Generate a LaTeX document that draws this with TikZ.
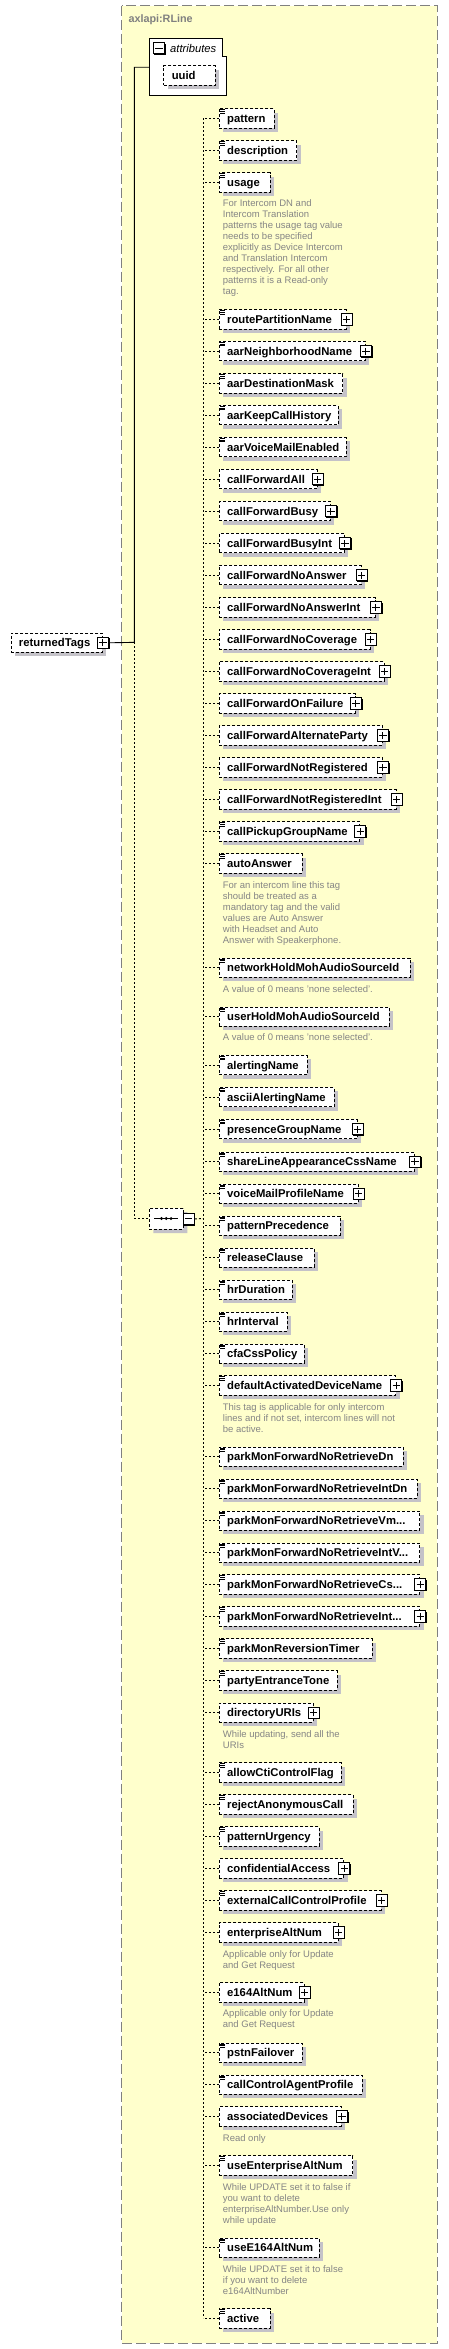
\documentclass[tikz,border=0pt]{standalone}
\usepackage{fontspec}
\setmainfont{Liberation Sans}
\usetikzlibrary{shadows,shapes.misc}
\definecolor{bgyellow}{HTML}{FFFFCC}
\definecolor{bordergray}{HTML}{808080}
\definecolor{shadowgray}{HTML}{C4C2C8}
\definecolor{docgray}{HTML}{858585}
\tikzset{
  elbox/.style={rectangle, draw=black, dash pattern=on 3pt off 2pt, line width=0.9pt, fill=white,
    minimum height=19.3pt, inner xsep=4pt, inner ysep=0pt, text height=8pt, text depth=0pt,
    align=left, font=\fontsize{11.3}{13}\selectfont\bfseries,
    drop shadow={shadow xshift=4pt, shadow yshift=-4pt, fill=shadowgray, opacity=1}},
  conn/.style={draw=black, dash pattern=on 2pt off 2pt, line width=0.9pt},
  solidconn/.style={draw=black, line width=0.9pt},
  pmbox/.style={rectangle, draw=black, solid, line width=0.9pt, fill=white, minimum size=11.3pt, inner sep=0pt,
    drop shadow={shadow xshift=1pt, shadow yshift=-1pt, fill=black, opacity=1}},
  doctext/.style={inner sep=0pt, align=left, text=docgray, font=\fontsize{9.5}{11}\selectfont},
  seqbox/.style={chamfered rectangle, chamfered rectangle xsep=5pt, chamfered rectangle ysep=5pt,
    draw=black, dash pattern=on 3pt off 2pt, line width=0.9pt, fill=white, inner sep=0pt,
    minimum width=34pt, minimum height=21pt,
    drop shadow={shadow xshift=4pt, shadow yshift=-4pt, fill=shadowgray, opacity=1}}
}
\newcommand\xicon[1]{\foreach \dy in {1.2,3,4.8}{\draw[line width=0.7pt] ([xshift=1.5pt,yshift=-\dy pt]#1.north west) -- ++(5,0);}}
\newcommand\xplus[1]{%
  \node[pmbox] (#1-p) at (#1.east) {};
  \draw[line width=0.9pt] ([xshift=-3.6pt]#1-p.center) -- ([xshift=3.6pt]#1-p.center)
    ([yshift=-3.6pt]#1-p.center) -- ([yshift=3.6pt]#1-p.center);}
\newcommand\xelem[6]{%
  \pgfmathsetmacro\xtw{#3-218.7-8}%
  \node[elbox, text width=\xtw pt, anchor=north west] (#1) at (218.7,#2) {\hspace*{4pt}\mbox{#4}};
  \draw[conn] (#1.west) -- (#1.west -| seqjoin);
  \ifnum#5=1 \xicon{#1}\fi
  \ifnum#6=1 \xplus{#1}\fi}
\newcommand\xdoc[3]{\node[doctext, anchor=north west] (#1) at (222.7,#2-4.4) {\strut #3};}
\begin{document}
\begin{tikzpicture}[x=1pt,y=-1pt]
\useasboundingbox (0,0) rectangle (448,2349);
% outer complex type box
\path[fill=bgyellow, draw=bordergray, line width=1pt, dash pattern=on 10pt off 4pt] (121.7,5.7) rectangle (437.3,2343.3);
\node[anchor=base west, inner sep=0pt, font=\fontsize{10.8}{13}\selectfont\bfseries, text=bordergray] (title) at (128.3,22.8) {axlapi:RLine};
% attributes box
\draw[line width=0.9pt, fill=white] (149.3,38.3) -- (222.3,38.3) -- (222.3,56.7) -- (226.7,56.7) -- (226.7,95.7) -- (149.3,95.7) -- cycle;
\coordinate (attr) at (149.3,67.3);
\node[pmbox] (attrm) at (159,48.3) {};
\draw[line width=0.9pt] ([xshift=-3.6pt]attrm.center) -- ([xshift=3.6pt]attrm.center);
\node[anchor=base west, inner sep=0pt, font=\fontsize{11.2}{13}\selectfont\itshape] (attrlabel) at (170,52.3) {attributes};
\pgfmathsetmacro\xtw{215-163.3-8}
\node[elbox, text width=\xtw pt, anchor=north west] (uuid) at (163.3,65.3) {\hspace*{4pt}uuid};
% root element
\pgfmathsetmacro\xtw{102-10.5-8}
\node[elbox, text width=\xtw pt, anchor=north west] (rt) at (10.5,632.7) {\hspace*{4pt}\mbox{returnedTags}};
\xplus{rt}
\coordinate (trunk) at (134.3,642.35);
\coordinate (attrjoin) at (134.3,67.3);
% sequence compositor
\node[seqbox] (seq) at (166.3,1218.5) {};
\draw[line width=0.9pt] ([xshift=-12pt]seq.center) -- ([xshift=12pt]seq.center);
\foreach \dx in {-4.8,0,4.8}{\fill ([xshift=\dx pt]seq.center) circle (1.6pt);}
\node[pmbox] (seqm) at (188.8,1218.9) {};
\draw[line width=0.9pt] ([xshift=-3.6pt]seqm.center) -- ([xshift=3.6pt]seqm.center);
\coordinate (seqjoin) at (203.3,1218.5);
\draw[solidconn] (rt-p.east) -- (trunk) -- (attrjoin) -- (attr);
\draw[conn] (trunk) |- (seq.west);
\draw[conn] (seqm.east) -- (seqjoin);
% children
\xelem{e1}{108.3}{273.7}{pattern}{1}{0}
\xelem{e2}{140.3}{296.3}{description}{1}{0}
\xelem{e3}{172.3}{269.7}{usage}{1}{0}
\xdoc{d3}{203.3}{For Intercom DN and\\Intercom Translation\\patterns the usage tag value\\needs to be specified\\explicitly as Device Intercom\\and Translation Intercom\\respectively. For all other\\patterns it is a Read-only\\tag.}
\xelem{e4}{309.3}{345.7}{routePartitionName}{1}{1}
\xelem{e5}{341}{365}{aarNeighborhoodName}{1}{1}
\xelem{e6}{373.3}{342.3}{aarDestinationMask}{1}{0}
\xelem{e7}{405}{337.7}{aarKeepCallHistory}{1}{0}
\xelem{e8}{437}{345.7}{aarVoiceMailEnabled}{1}{0}
\xelem{e9}{469}{316.7}{callForwardAll}{0}{1}
\xelem{e10}{501}{330}{callForwardBusy}{0}{1}
\xelem{e11}{533}{344}{callForwardBusyInt}{0}{1}
\xelem{e12}{565}{360.7}{callForwardNoAnswer}{0}{1}
\xelem{e13}{597.3}{375}{callForwardNoAnswerInt}{0}{1}
\xelem{e14}{629.3}{369.7}{callForwardNoCoverage}{0}{1}
\xelem{e15}{661.3}{383.7}{callForwardNoCoverageInt}{0}{1}
\xelem{e16}{693.3}{355}{callForwardOnFailure}{0}{1}
\xelem{e17}{725.3}{382}{callForwardAlternateParty}{0}{1}
\xelem{e18}{757.3}{382}{callForwardNotRegistered}{0}{1}
\xelem{e19}{789.3}{395.7}{callForwardNotRegisteredInt}{0}{1}
\xelem{e20}{821.3}{359.3}{callPickupGroupName}{1}{1}
\xelem{e21}{853.3}{301.7}{autoAnswer}{1}{0}
\xdoc{d21}{884.7}{For an intercom line this tag\\should be treated as a\\mandatory tag and the valid\\values are Auto Answer\\with Headset and Auto\\Answer with Speakerphone.}
\xelem{e22}{957.7}{409.7}{networkHoldMohAudioSourceId}{1}{0}
\xdoc{d22}{989}{A value of 0 means 'none selected'.}
\xelem{e23}{1006.7}{388.7}{userHoldMohAudioSourceId}{1}{0}
\xdoc{d23}{1037.3}{A value of 0 means 'none selected'.}
\xelem{e24}{1055}{306.7}{alertingName}{1}{0}
\xelem{e25}{1087}{333.7}{asciiAlertingName}{1}{0}
\xelem{e26}{1119}{356.7}{presenceGroupName}{1}{1}
\xelem{e27}{1151.7}{414}{shareLineAppearanceCssName}{1}{1}
\xelem{e28}{1183.7}{357.7}{voiceMailProfileName}{1}{1}
\xelem{e29}{1215.7}{339.7}{patternPrecedence}{1}{0}
\xelem{e30}{1247.7}{313.7}{releaseClause}{1}{0}
\xelem{e31}{1279.7}{292}{hrDuration}{1}{0}
\xelem{e32}{1311.7}{286.7}{hrInterval}{1}{0}
\xelem{e33}{1343.7}{303.7}{cfaCssPolicy}{1}{0}
\xelem{e34}{1375.3}{395.3}{defaultActivatedDeviceName}{1}{1}
\xdoc{d34}{1406.7}{This tag is applicable for only intercom\\lines and if not set, intercom lines will not\\be active.}
\xelem{e35}{1446.7}{402.7}{parkMonForwardNoRetrieveDn}{1}{0}
\xelem{e36}{1478.7}{416.7}{parkMonForwardNoRetrieveIntDn}{1}{0}
\xelem{e37}{1510.7}{419.3}{parkMonForwardNoRetrieveVm...}{1}{0}
\xelem{e38}{1542.7}{419.3}{parkMonForwardNoRetrieveIntV...}{1}{0}
\xelem{e39}{1574.3}{419.3}{parkMonForwardNoRetrieveCs...}{1}{1}
\xelem{e40}{1606.3}{419.3}{parkMonForwardNoRetrieveInt...}{1}{1}
\xelem{e41}{1638.3}{371.7}{parkMonReversionTimer}{1}{0}
\xelem{e42}{1670.3}{336.7}{partyEntranceTone}{1}{0}
\xelem{e43}{1702.7}{312.7}{directoryURIs}{0}{1}
\xdoc{d43}{1733.7}{While updating, send all the\\URIs}
\xelem{e44}{1762.3}{340.7}{allowCtiControlFlag}{1}{0}
\xelem{e45}{1794.3}{352.7}{rejectAnonymousCall}{1}{0}
\xelem{e46}{1826.3}{318.7}{patternUrgency}{1}{0}
\xelem{e47}{1858.3}{343.3}{confidentialAccess}{0}{1}
\xelem{e48}{1890.3}{380.7}{externalCallControlProfile}{1}{1}
\xelem{e49}{1922.3}{337.7}{enterpriseAltNum}{0}{1}
\xdoc{d49}{1954}{Applicable only for Update\\and Get Request}
\xelem{e50}{1982.3}{303.7}{e164AltNum}{0}{1}
\xdoc{d50}{2013.3}{Applicable only for Update\\and Get Request}
\xelem{e51}{2042.7}{301.7}{pstnFailover}{1}{0}
\xelem{e52}{2074.7}{361.7}{callControlAgentProfile}{1}{0}
\xelem{e53}{2106.3}{341}{associatedDevices}{0}{1}
\xdoc{d53}{2137.7}{Read only}
\xelem{e54}{2155.3}{352.3}{useEnterpriseAltNum}{1}{0}
\xdoc{d54}{2186.7}{While UPDATE set it to false if\\you want to delete\\enterpriseAltNumber.Use only\\while update}
\xelem{e55}{2237.7}{318.7}{useE164AltNum}{1}{0}
\xdoc{d55}{2268.7}{While UPDATE set it to false\\if you want to delete\\e164AltNumber}
\xelem{e56}{2308.3}{269.7}{active}{1}{0}
% spine of the sequence
\draw[conn] (e1.west -| seqjoin) -- (e56.west -| seqjoin);
\end{tikzpicture}
\end{document}
